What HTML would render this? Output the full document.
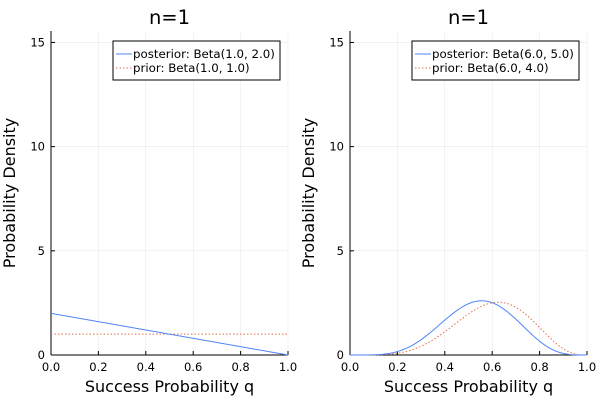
<!DOCTYPE html>
<html><head><meta charset="utf-8"><style>
body{margin:0;background:#fff;font-family:"DejaVu Sans",sans-serif;}
svg text{font-family:"DejaVu Sans",sans-serif;}
</style></head><body>
<svg id="chart" width="600" height="400" xmlns="http://www.w3.org/2000/svg"></svg>
<script>
const panelTitles = ["n=1", "n=1"];
const posteriorA = [1.0, 6.0];
const posteriorB = [2.0, 5.0];
const priorA = [1.0, 6.0];
const priorB = [1.0, 4.0];
const xTicks = [0, 0.2, 0.4, 0.6, 0.8, 1.0];
const xTickLabels = ["0.0","0.2","0.4","0.6","0.8","1.0"];
const yTicks = [0, 5, 10, 15];
const yTickLabels = ["0","5","10","15"];
const yMax = 15.55;

const NS = "http://www.w3.org/2000/svg";
const svg = document.getElementById("chart");
function mk(tag, attrs, parent){const e=document.createElementNS(NS,tag);for(const k in attrs)e.setAttribute(k,attrs[k]);(parent||svg).appendChild(e);return e;}
function lgamma(z){const g=7,c=[0.99999999999980993,676.5203681218851,-1259.1392167224028,771.32342877765313,-176.61503916999185,12.507343278686905,-0.13857109526572012,9.9843695780195716e-6,1.5056327351493116e-7];
 if(z<0.5)return Math.log(Math.PI/Math.sin(Math.PI*z))-lgamma(1-z);z-=1;let x=c[0];for(let i=1;i<g+2;i++)x+=c[i]/(z+i);const t=z+g+0.5;return 0.5*Math.log(2*Math.PI)+(z+0.5)*Math.log(t)-t+Math.log(x);}
function betaPdf(q,a,b){if(q<=0)return a==1?b:(a<1?Infinity:0);if(q>=1)return b==1?a:(b<1?Infinity:0);
 return Math.exp((a-1)*Math.log(q)+(b-1)*Math.log(1-q)+lgamma(a+b)-lgamma(a)-lgamma(b));}

const panels=[{l:51,r:288},{l:350,r:587}];
const plotTop=31,plotBot=355;
panels.forEach((p,i)=>{
 const g=mk("g",{});
 
 
 const xs=v=>p.l+v*(p.r-p.l);
 const ys=v=>plotBot-v/yMax*(plotBot-plotTop);
 xTicks.forEach((t,k)=>{
  mk("line",{x1:xs(t),x2:xs(t),y1:plotTop,y2:plotBot,stroke:"#000","stroke-opacity":0.1,"stroke-width":0.5},g);
  mk("line",{x1:xs(t),x2:xs(t),y1:plotBot,y2:plotBot-4,stroke:"#000","stroke-width":1},g);
  const tx=mk("text",{x:xs(t),y:plotBot+16,"font-size":11.5,"text-anchor":"middle"},g);tx.textContent=xTickLabels[k];
  
  
 });
 yTicks.forEach((t,k)=>{
  mk("line",{x1:p.l,x2:p.r,y1:ys(t),y2:ys(t),stroke:"#000","stroke-opacity":0.1,"stroke-width":0.5},g);
  mk("line",{x1:p.l,x2:p.l+4,y1:ys(t),y2:ys(t),stroke:"#000","stroke-width":1},g);
  const tx=mk("text",{x:p.l-6,y:ys(t)+4,"font-size":11.5,"text-anchor":"end"},g);tx.textContent=yTickLabels[k];
  
  
 });
 mk("line",{x1:p.l,x2:p.l,y1:plotTop,y2:plotBot,stroke:"#000","stroke-width":1},g);
 mk("line",{x1:p.l,x2:p.r,y1:plotBot,y2:plotBot,stroke:"#000","stroke-width":1},g);
 const N=200;let d1="",d2="";
 for(let k=0;k<=N;k++){const q=k/N;
  d1+=(k?"L":"M")+xs(q).toFixed(2)+","+ys(betaPdf(q,posteriorA[i],posteriorB[i])).toFixed(2);
  d2+=(k?"L":"M")+xs(q).toFixed(2)+","+ys(betaPdf(q,priorA[i],priorB[i])).toFixed(2);}
 const pl=mk("path",{d:d2,fill:"none",stroke:"#e26f46","stroke-width":1,"stroke-dasharray":"1.5,2"},g);
 
 
 const po=mk("path",{d:d1,fill:"none",stroke:"#4f86f7","stroke-width":1},g);
 
 
 const t=mk("text",{x:(p.l+p.r)/2,y:24,"font-size":19.5,"text-anchor":"middle"},g);t.textContent=panelTitles[i];
 
 
 const xl=mk("text",{x:(p.l+p.r)/2,y:392,"font-size":16,"text-anchor":"middle"},g);xl.textContent="Success Probability q";
 
 
 const cy=(plotTop+plotBot)/2;
 const yl=mk("text",{x:p.l-36,y:cy,"font-size":16,"text-anchor":"middle",transform:`rotate(-90 ${p.l-36} ${cy})`},g);yl.textContent="Probability Density";
 
 
 const lg=mk("g",{},g);
 
 
 const lx=p.r-175,ly=41;
 mk("rect",{x:lx,y:ly,width:167,height:39,fill:"#fff",stroke:"#000","stroke-width":1},lg);
 mk("line",{x1:lx+3,x2:lx+19,y1:ly+13,y2:ly+13,stroke:"#4f86f7","stroke-width":1},lg);
 mk("line",{x1:lx+3,x2:lx+19,y1:ly+27,y2:ly+27,stroke:"#e26f46","stroke-width":1,"stroke-dasharray":"1.5,2"},lg);
 const e1=mk("text",{x:lx+20,y:ly+17,"font-size":11.8},lg);e1.textContent=`posterior: Beta(${posteriorA[i].toFixed(1)}, ${posteriorB[i].toFixed(1)})`;
 
 
 const e2=mk("text",{x:lx+20,y:ly+31,"font-size":11.8},lg);e2.textContent=`prior: Beta(${priorA[i].toFixed(1)}, ${priorB[i].toFixed(1)})`;
 
 
});
</script>
</body></html>
